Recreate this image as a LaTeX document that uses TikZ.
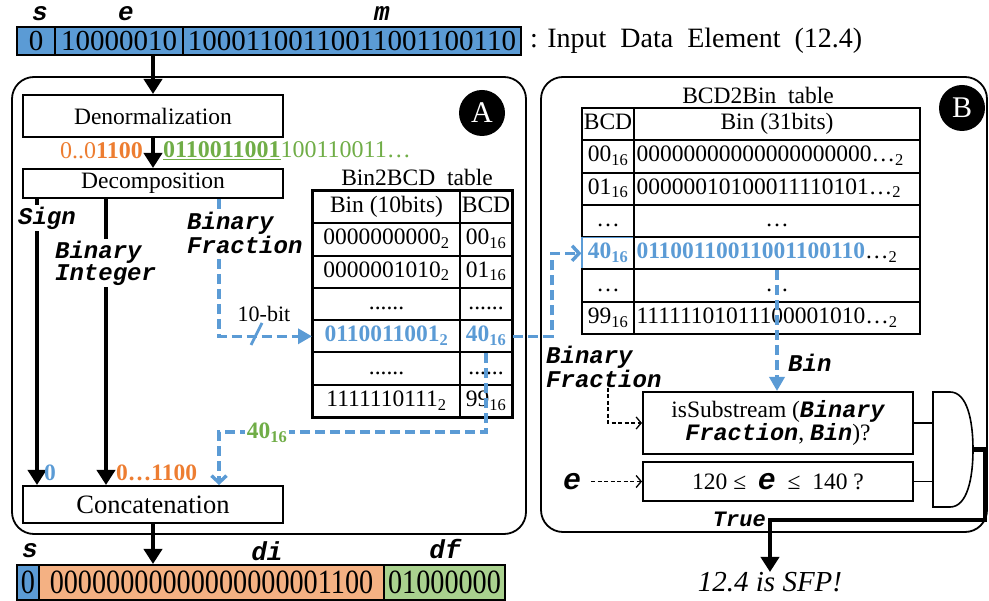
\documentclass[tikz,border=0pt]{standalone}
\usepackage{fontspec}
\setmainfont{Liberation Serif}
\setmonofont{Liberation Mono}
\usetikzlibrary{arrows.meta}
\definecolor{myblue}{HTML}{5B9BD5}
\definecolor{myorange}{HTML}{ED7D31}
\definecolor{mygreen}{HTML}{70AD47}
\definecolor{fillorange}{HTML}{F4B183}
\definecolor{fillgreen}{HTML}{A9D18E}
\newcommand\fsz[1]{\fontsize{#1pt}{#1pt}\selectfont}
\newcommand\mlab{\ttfamily\bfseries\itshape}
\tikzset{
  every node/.style={inner sep=0pt},
  panel/.style={draw, line width=1.8pt, rounded corners=22pt},
  box/.style={draw, line width=2pt, font=\fsz{23.5}},
  barcell/.style={draw, line width=2pt, minimum height=28pt, font=\fsz{29}},
  botcell/.style={draw, line width=2pt, minimum height=35pt, font=\fsz{34}},
  tcell/.style={draw, line width=2pt, minimum height=32.3pt, text height=16pt, text depth=5pt, font=\fsz{23.5}},
  wcell/.style={tcell, minimum width=286pt, text width=281pt, align=left},
  mono/.style={font=\mlab\fsz{24}},
  bigarrow/.style={line width=4.2pt, -{Triangle[length=15pt,width=18pt]}},
  bdash/.style={draw=myblue, line width=3.4pt, dash pattern=on 10pt off 5pt},
  btip/.style={-{Triangle[length=14pt,width=15pt]}},
  bbarb/.style={-{Straight Barb[length=7pt,width=15pt]}},
  tdash/.style={line width=1.3pt, dash pattern=on 4pt off 2.5pt, -{Straight Barb[length=5pt,width=12pt]}},
}
\begin{document}
\begin{tikzpicture}[x=1pt,y=-1pt]
\useasboundingbox (0,0) rectangle (989,601);

% ---------- input word ----------
\node[barcell, fill=myblue, minimum width=38pt]  (ts) at (36,41)  {0};
\node[barcell, fill=myblue, minimum width=128pt] (te) at (119,41) {10000010};
\node[barcell, fill=myblue, minimum width=338pt] (tm) at (352,41) {10001100110011001100110};
\node[mono, font=\mlab\fsz{26}] (lts) at (40,14) {s};
\node[mono, font=\mlab\fsz{26}] (lte) at (126,14) {e};
\node[mono, font=\mlab\fsz{26}] (ltm) at (382,14) {m};
\node[anchor=west, font=\fsz{28}] (inp) at (530,41) {: Input\ \ Data\ \ Element\ \ (12.4)};

% ---------- panels ----------
\node[panel, minimum width=514pt, minimum height=457pt] (pA) at (269,305.5) {};
\node[panel, minimum width=446pt, minimum height=455pt] (pB) at (764,304.5) {};
\node[circle, fill=black, text=white, minimum size=46pt, font=\fsz{30}] (cA) at (482,113) {A};
\node[circle, fill=black, text=white, minimum size=46pt, font=\fsz{30}] (cB) at (962,108) {B};

% ---------- panel A ----------
\node[box, minimum width=260pt, minimum height=42pt] (dn) at (153,116) {Denormalization};
\node[box, minimum width=260pt, minimum height=29pt] (dc) at (153,183.5) {Decomposition};
\node[box, minimum width=260pt, minimum height=37pt, font=\fsz{26.5}] (cc) at (153,504.5) {Concatenation};

\draw[bigarrow] (dn.north |- te.south) -- (dn.north);
\draw[bigarrow] (dn.south) -- (dc.north);
\node[anchor=east, text=myorange, font=\fsz{24}] (lo) at (143,151) {0..0\textbf{1100}};
\node[anchor=west, text=mygreen, font=\fsz{24}] (lg) at (163,151) {\underline{\textbf{0110011001}}100110011…};

\coordinate (xs) at (37,0);
\coordinate (xi) at (106,0);
\coordinate (xf) at (219,0);
\coordinate (xm) at (552,0);
\coordinate (yk) at (0,432);

\draw[bigarrow] (dc.south -| xs) -- (cc.north -| xs);
\node[mono, fill=white, inner sep=2pt] (lsign) at (47,218) {Sign};
\draw[bigarrow] (dc.south -| xi) -- (cc.north -| xi);
\node[mono, fill=white, anchor=west, align=left, inner sep=2pt,
      font=\mlab\fontsize{24pt}{22pt}\selectfont] (lint) at (53,263) {Binary\\Integer};

% Bin2BCD table
\node[font=\fsz{23.5}] (tA) at (417,177) {Bin2BCD\hspace{0.5em}table};
\node[tcell, minimum width=147pt] (a0a) at (386.5,207.1) {Bin (10bits)};
\node[tcell, minimum width=52pt]  (a0b) at (486,207.1)   {BCD};
\node[tcell, minimum width=147pt] (a1a) at (386.5,239.4) {0000000000\textsubscript{2}};
\node[tcell, minimum width=52pt]  (a1b) at (486,239.4)   {00\textsubscript{16}};
\node[tcell, minimum width=147pt] (a2a) at (386.5,271.7) {0000001010\textsubscript{2}};
\node[tcell, minimum width=52pt]  (a2b) at (486,271.7)   {01\textsubscript{16}};
\node[tcell, minimum width=147pt] (a3a) at (386.5,304.0) {......};
\node[tcell, minimum width=52pt]  (a3b) at (486,304.0)   {......};
\node[tcell, minimum width=147pt, text=myblue, font=\bfseries\fsz{23.5}] (a4a) at (386.5,336.3) {0110011001\textsubscript{2}};
\node[tcell, minimum width=52pt, text=myblue, font=\bfseries\fsz{23.5}]  (a4b) at (486,336.3)   {40\textsubscript{16}};
\node[tcell, minimum width=147pt] (a5a) at (386.5,368.6) {......};
\node[tcell, minimum width=52pt]  (a5b) at (486,368.6)   {......};
\node[tcell, minimum width=147pt] (a6a) at (386.5,400.9) {1111110111\textsubscript{2}};
\node[tcell, minimum width=52pt]  (a6b) at (486,400.9)   {99\textsubscript{16}};
\draw[line width=2.4pt] (a0a.north west) rectangle (a6b.south east);

% binary fraction path into the table
\draw[bdash, btip] (dc.south -| xf) |- (a4a.west);
\node[mono, fill=white, anchor=west, align=left, inner sep=2pt,
      font=\mlab\fontsize{24pt}{20pt}\selectfont] (lfrac) at (185,233) {Binary\\Fraction};
\node[font=\fsz{22}] (l10) at (264,314) {10-bit};
\draw[myblue, line width=2.8pt] (251,345) -- (262,323);

% BCD value back to concatenation
\draw[bdash, bbarb] (a4b.south) |- (xf |- yk) -- (cc.north -| xf);
\node[fill=white, text=mygreen, font=\bfseries\fsz{23.5}, inner sep=2pt] (l40) at (267,433) {40\textsubscript{16}};
\node[anchor=west, text=myblue, font=\bfseries\fsz{23.5}] (l0) at (44,473) {0};
\node[anchor=west, text=myorange, font=\bfseries\fsz{23.5}] (l1100) at (116,473) {0…1100};

% ---------- output word ----------
\node[botcell, fill=myblue, minimum width=22pt] (bs) at (28,582.5) {\scalebox{0.83}[1]{0}};
\node[botcell, fill=fillorange, minimum width=345pt] (bdi) at (211.5,582.5) {\scalebox{0.83}[1]{00000000000000000001100}};
\node[botcell, fill=fillgreen, minimum width=121pt] (bdf) at (444.5,582.5) {\scalebox{0.83}[1]{01000000}};
\node[mono, font=\mlab\fsz{26}] (lbs) at (30,551) {s};
\node[mono, font=\mlab\fsz{26}] (lbdi) at (267,551) {di};
\node[mono, font=\mlab\fsz{26}] (lbdf) at (445,549) {df};
\draw[bigarrow] (cc.south) -- (cc.south |- bdi.north);

% ---------- panel B ----------
\node[font=\fsz{23.5}] (tB) at (758,95) {BCD2Bin\hspace{0.5em}table};
\node[tcell, minimum width=52pt]  (b0a) at (608,124.1) {BCD};
\node[tcell, minimum width=286pt] (b0b) at (777,124.1) {Bin (31bits)};
\node[tcell, minimum width=52pt]  (b1a) at (608,156.4) {00\textsubscript{16}};
\node[wcell] (b1b) at (777,156.4) {00000000000000000000…\textsubscript{2}};
\node[tcell, minimum width=52pt]  (b2a) at (608,188.7) {01\textsubscript{16}};
\node[wcell] (b2b) at (777,188.7) {00000010100011110101…\textsubscript{2}};
\node[tcell, minimum width=52pt]  (b3a) at (608,221.0) {…};
\node[tcell, minimum width=286pt] (b3b) at (777,221.0) {…};
\node[tcell, minimum width=52pt, draw=myblue, line width=1.2pt, text=myblue, font=\bfseries\fsz{23.5}] (b4a) at (608,253.3) {40\textsubscript{16}};
\node[wcell] (b4b) at (777,253.3) {\textcolor{myblue}{\bfseries 01100110011001100110}…\textsubscript{2}};
\node[tcell, minimum width=52pt]  (b5a) at (608,285.6) {…};
\node[tcell, minimum width=286pt] (b5b) at (777,285.6) {…};
\node[tcell, minimum width=52pt]  (b6a) at (608,317.9) {99\textsubscript{16}};
\node[wcell] (b6b) at (777,317.9) {11111101011100001010…\textsubscript{2}};

\draw[bdash, bbarb] (a4b.east) -| (xm |- b4a.west) -- (b4a.west);

\node[box, minimum width=270pt, minimum height=62pt, align=center,
      font=\fontsize{23.5pt}{21pt}\selectfont] (sub) at (778,423)
      {isSubstream ({\mlab Binary}\\{\mlab Fraction}, {\mlab Bin})?};
\node[box, minimum width=270pt, minimum height=39pt] (rng) at (778,481.5)
      {120 ≤\ \ {\mlab\fsz{30}e}\ \ ≤\ \ 140 ?};

\draw[bdash, btip] (b4b.south) -- (b4b.south |- sub.north);
\node[mono, anchor=west] (lbin) at (788,363) {Bin};

\node[mono, anchor=west, align=left, font=\mlab\fontsize{24pt}{21pt}\selectfont] (bfB) at (546,367) {Binary\\Fraction};
\coordinate (x608) at (608,0);
\draw[tdash] (bfB.south -| x608) |- (sub.west);
\node[font=\mlab\fsz{30}] (le) at (572,481.5) {e};
\draw[tdash] ([xshift=10pt]le.east) -- (rng.west);

% AND gate
\coordinate (g0) at (933,392);
\coordinate (gout) at (973,449.5);
\draw[line width=1.6pt] (g0) -- (950,392) .. controls (967,392) and (973,420) .. (gout)
      .. controls (973,479) and (967,507) .. (950,507) -- (933,507) -- cycle;
\draw[line width=1.3pt] (sub.east) -- (sub.east -| g0);
\draw[line width=1.3pt] (rng.east) -- (rng.east -| g0);

\coordinate (xr) at (985,0);
\coordinate (yt) at (0,520);
\node[font=\itshape\fsz{29}] (sfp) at (770,582) {12.4 is SFP!};
\draw[bigarrow] (gout) -| (xr |- yt) -| (sfp.north);
\node[mono, anchor=east, font=\mlab\fsz{22}] (ltrue) at (766,519) {True};

\end{tikzpicture}
\end{document}
